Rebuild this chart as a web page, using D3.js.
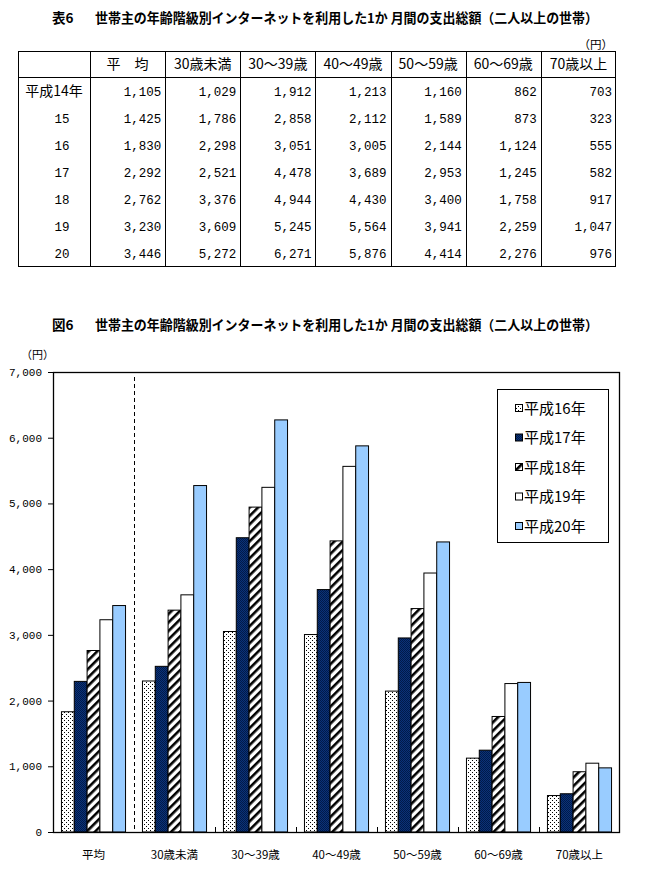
<!DOCTYPE html>
<html><head><meta charset="utf-8">
<script src="https://cdn.jsdelivr.net/npm/d3@7"></script>
<style>body{margin:0;background:#fff}svg{display:block}</style>
</head><body>
<svg id="c" width="650" height="877"></svg>
<script>
// ---- data ----
const categories = ["平均","30歳未満","30～39歳","40～49歳","50～59歳","60～69歳","70歳以上"];
const rowLabels = ["平成14年","15","16","17","18","19","20"];
const r14 = [1105,1029,1912,1213,1160,862,703];
const r15 = [1425,1786,2858,2112,1589,873,323];
const r16 = [1830,2298,3051,3005,2144,1124,555];
const r17 = [2292,2521,4478,3689,2953,1245,582];
const r18 = [2762,3376,4944,4430,3400,1758,917];
const r19 = [3230,3609,5245,5564,3941,2259,1047];
const r20 = [3446,5272,6271,5876,4414,2276,976];
const tableRows = [r14,r15,r16,r17,r18,r19,r20];
const seriesNames = ["平成16年","平成17年","平成18年","平成19年","平成20年"];
const seriesValues = [r16,r17,r18,r19,r20];
const yTickValues = [0,1000,2000,3000,4000,5000,6000,7000];
const tableTitle = "世帯主の年齢階級別インターネットを利用した1か 月間の支出総額（二人以上の世帯）";
const chartTitle = tableTitle;

const CJK = "'Noto Sans CJK JP','Noto Sans CJK SC',sans-serif";
const MONO = "'Liberation Mono','DejaVu Sans Mono',monospace";
const svg = d3.select("#c");
const fmt = d3.format(",");

// ---- patterns ----
const defs = svg.append("defs");
const pDot = defs.append("pattern").attr("id","pDot").attr("patternUnits","userSpaceOnUse").attr("width",4).attr("height",4);
pDot.append("rect").attr("width",4).attr("height",4).attr("fill","#fff");
pDot.append("rect").attr("x",0).attr("y",0).attr("width",1).attr("height",1).attr("fill","#000");
pDot.append("rect").attr("x",2).attr("y",2).attr("width",1).attr("height",1).attr("fill","#000");
const pNavy = defs.append("pattern").attr("id","pNavy").attr("patternUnits","userSpaceOnUse").attr("width",2).attr("height",2);
pNavy.append("rect").attr("width",2).attr("height",2).attr("fill","#0b3278");
pNavy.append("rect").attr("width",1).attr("height",1).attr("fill","#001a4a");
pNavy.append("rect").attr("x",1).attr("y",1).attr("width",1).attr("height",1).attr("fill","#001a4a");
const pHatch = defs.append("pattern").attr("id","pHatch").attr("patternUnits","userSpaceOnUse").attr("width",6).attr("height",6).attr("patternTransform","rotate(45)");
pHatch.append("rect").attr("width",6).attr("height",6).attr("fill","#fff");
pHatch.append("rect").attr("x",0).attr("width",2.6).attr("height",6).attr("fill","#000");
const fills = ["url(#pDot)","url(#pNavy)","url(#pHatch)","#ffffff","#99ccff"];

// ---- table ----
const tTitle = svg.append("g");
tTitle.append("text").attr("x",52).attr("y",23).attr("font-family",CJK).attr("font-weight","bold").attr("font-size",13.5).text("表6");
tTitle.append("text").attr("x",95).attr("y",23).attr("font-family",CJK).attr("font-weight","bold").attr("font-size",13.5)
  .attr("textLength",503).attr("lengthAdjust","spacingAndGlyphs").text(tableTitle);
svg.append("text").attr("x",613).attr("y",49).attr("text-anchor","end").attr("font-family",CJK).attr("font-size",11.5).text("（円）");

const tLeft = 18, tLabelW = 72, tRight = 616, tTop = 51, tHead = 77, tBottom = 267;
const colX = d3.scaleBand().domain(categories).range([tLeft+tLabelW, tRight]);
const rowY = d3.scaleBand().domain(rowLabels).range([tHead, tBottom]);
const tg = svg.append("g").attr("stroke","#000").attr("stroke-width",1).attr("fill","none");
tg.append("rect").attr("x",tLeft+0.5).attr("y",tTop+0.5).attr("width",tRight-tLeft-1).attr("height",tBottom-tTop-1);
tg.append("line").attr("x1",tLeft).attr("x2",tRight).attr("y1",tHead+0.5).attr("y2",tHead+0.5);
tg.selectAll("line.v").data(categories).join("line").attr("class","v")
  .attr("x1",d=>Math.round(colX(d))+0.5).attr("x2",d=>Math.round(colX(d))+0.5).attr("y1",tTop).attr("y2",tBottom);
svg.append("g").selectAll("text").data(categories).join("text")
  .attr("x",d=>colX(d)+colX.bandwidth()/2).attr("y",(tTop+tHead)/2+5)
  .attr("text-anchor","middle").attr("font-family",CJK).attr("font-size",14).text(d=>d==="平均"?"平　均":d);
svg.append("g").selectAll("text").data(rowLabels).join("text")
  .attr("x",(d,i)=> i===0 ? tLeft+tLabelW/2 : 62).attr("y",d=>rowY(d)+rowY.bandwidth()/2+5)
  .attr("text-anchor","middle").attr("font-family",(d,i)=>i===0?CJK:MONO).attr("font-size",(d,i)=>i===0?14:12.5).text(d=>d);
const cells = [];
tableRows.forEach((row,ri)=>row.forEach((v,ci)=>cells.push({r:rowLabels[ri],c:categories[ci],v})));
svg.append("g").selectAll("text").data(cells).join("text")
  .attr("x",d=>colX(d.c)+colX.bandwidth()-4).attr("y",d=>rowY(d.r)+rowY.bandwidth()/2+5)
  .attr("text-anchor","end").attr("font-family",MONO).attr("font-size",12.5).text(d=>fmt(d.v));

// ---- chart ----
svg.append("text").attr("x",52).attr("y",330).attr("font-family",CJK).attr("font-weight","bold").attr("font-size",13.5).text("図6");
svg.append("text").attr("x",95).attr("y",330).attr("font-family",CJK).attr("font-weight","bold").attr("font-size",13.5)
  .attr("textLength",503).attr("lengthAdjust","spacingAndGlyphs").text(chartTitle);

const pL = 53, pR = 620, pT = 372, pB = 832;
const x = d3.scaleBand().domain(categories).range([pL,pR]);
const xs = d3.scaleBand().domain(seriesNames).range([0,x.bandwidth()]).paddingOuter(0.66);
const y = d3.scaleLinear().domain([0,7000]).range([pB,pT]);

svg.append("text").attr("x",21).attr("y",359).attr("font-family",CJK).attr("font-size",11).text("（円）");

const yAxis = svg.append("g").attr("transform",`translate(${pL},0)`)
  .call(d3.axisLeft(y).tickValues(yTickValues).tickSize(5).tickPadding(6).tickFormat(fmt));
yAxis.select(".domain").remove();
yAxis.selectAll("text").attr("font-family",MONO).attr("font-size",11).attr("fill","#000");
yAxis.selectAll("line").attr("stroke","#000");

// bars
const bars = [];
seriesValues.forEach((vals,si)=>vals.forEach((v,ci)=>bars.push({s:seriesNames[si],si,c:categories[ci],v})));
svg.append("g").selectAll("rect").data(bars).join("rect")
  .attr("x",d=>x(d.c)+xs(d.s)).attr("y",d=>y(d.v)).attr("width",xs.bandwidth()).attr("height",d=>y(0)-y(d.v))
  .attr("fill",d=>fills[d.si]).attr("stroke","#000").attr("stroke-width",1);

// frame
svg.append("rect").attr("x",pL+0.5).attr("y",pT+0.5).attr("width",pR-pL-1).attr("height",pB-pT)
  .attr("fill","none").attr("stroke","#000").attr("stroke-width",1.3);
// bottom ticks between groups
svg.append("g").selectAll("line").data(categories.slice(2)).join("line")
  .attr("x1",d=>Math.round(x(d))+0.5).attr("x2",d=>Math.round(x(d))+0.5).attr("y1",pB).attr("y2",pB-5)
  .attr("stroke","#000");
// dashed separator after 平均
svg.append("line").attr("x1",Math.round(x(categories[1]))+0.5).attr("x2",Math.round(x(categories[1]))+0.5)
  .attr("y1",pT+5).attr("y2",pB).attr("stroke","#000").attr("stroke-dasharray","4,3");

// x labels
svg.append("g").selectAll("text").data(categories).join("text")
  .attr("x",d=>x(d)+x.bandwidth()/2).attr("y",859).attr("text-anchor","middle")
  .attr("font-family",CJK).attr("font-size",11.5).text(d=>d);

// legend
const lg = svg.append("g");
lg.append("rect").attr("x",497.5).attr("y",389.5).attr("width",111).attr("height",153).attr("fill","#fff").attr("stroke","#000");
const ly = d3.scalePoint().domain(seriesNames).range([408,526]);
lg.selectAll("rect.sw").data(seriesNames).join("rect").attr("class","sw")
  .attr("x",515.5).attr("y",d=>ly(d)-3.5).attr("width",7).attr("height",7)
  .attr("fill",(d,i)=>fills[i]).attr("stroke","#000");
lg.selectAll("text").data(seriesNames).join("text")
  .attr("x",524).attr("y",d=>ly(d)+5.5).attr("font-family",CJK).attr("font-size",15).text(d=>d);
</script>
</body></html>
